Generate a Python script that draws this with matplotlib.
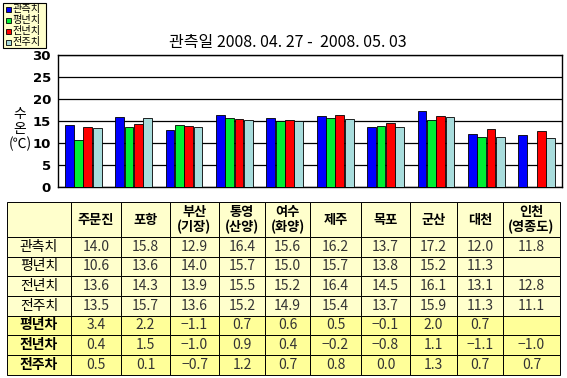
import matplotlib
matplotlib.use("Agg")
import matplotlib.pyplot as plt
import numpy as np
from matplotlib.patches import Rectangle

plt.rcParams['font.family'] = ['Noto Sans CJK KR', 'DejaVu Sans']

stations = ["주문진", "포항", "부산\n(기장)", "통영\n(산양)", "여수\n(화양)", "제주", "목포", "군산", "대천", "인천\n(영종도)"]
series_names = ["관측치", "평년치", "전년치", "전주치"]
observed = [14.0, 15.8, 12.9, 16.4, 15.6, 16.2, 13.7, 17.2, 12.0, 11.8]
normal = [10.6, 13.6, 14.0, 15.7, 15.0, 15.7, 13.8, 15.2, 11.3, np.nan]
last_year = [13.6, 14.3, 13.9, 15.5, 15.2, 16.4, 14.5, 16.1, 13.1, 12.8]
last_week = [13.5, 15.7, 13.6, 15.2, 14.9, 15.4, 13.7, 15.9, 11.3, 11.1]
diff_names = ["평년차", "전년차", "전주차"]
diff_normal = [3.4, 2.2, -1.1, 0.7, 0.6, 0.5, -0.1, 2.0, 0.7, np.nan]
diff_last_year = [0.4, 1.5, -1.0, 0.9, 0.4, -0.2, -0.8, 1.1, -1.1, -1.0]
diff_last_week = [0.5, 0.1, -0.7, 1.2, 0.7, 0.8, 0.0, 1.3, 0.7, 0.7]
yticks = [0, 5, 10, 15, 20, 25, 30]
title = "관측일 2008. 04. 27 -  2008. 05. 03"

colors = ["#0000FF", "#00EE33", "#FF0000", "#A8DCDC"]

W, H = 567, 378
fig = plt.figure(figsize=(W / 100, H / 100), dpi=100)
fig.patch.set_facecolor("white")

# chart axes
x0, x1, y0, y1 = 58, 562, 55, 187
ax = fig.add_axes([x0 / W, 1 - y1 / H, (x1 - x0) / W, (y1 - y0) / H])
series = [observed, normal, last_year, last_week]
n = len(stations)
x = np.arange(n)
bw = 0.175
step = 0.185
for i, (vals, c) in enumerate(zip(series, colors)):
    ax.bar(x + (i - 1.5) * step, vals, width=bw, color=c, edgecolor="black",
           linewidth=0.6, zorder=3)
ax.set_xlim(-0.5, n - 0.5)
ax.set_ylim(0, 30)
ax.set_yticks(yticks)
ax.set_yticklabels([str(t) for t in yticks], fontsize=9.5, fontweight="bold",
                   family=["DejaVu Sans"])
ax.tick_params(axis="y", length=0, pad=5)
ax.set_xticks([])
ax.grid(axis="y", color="black", linewidth=0.9, zorder=0)
for s in ax.spines.values():
    s.set_linewidth(1.0)
    s.set_color("black")

# overlay axes in pixel coordinates
ov = fig.add_axes([0, 0, 1, 1])
ov.set_xlim(0, W)
ov.set_ylim(H, 0)
ov.axis("off")
ov.patch.set_alpha(0)

ov.text(288, 43, title, ha="center", va="center", fontsize=11.5)
ov.text(20, 114, "수", ha="center", va="center", fontsize=10)
ov.text(20, 129, "온", ha="center", va="center", fontsize=10)
ov.text(20, 144, "(℃)", ha="center", va="center", fontsize=10)

# legend box
ov.add_patch(Rectangle((3, 3), 43, 45, facecolor="#FFFFCC", edgecolor="black",
                       linewidth=0.8))
for i, (nm, c) in enumerate(zip(series_names, colors)):
    yy = 9 + i * 11
    ov.add_patch(Rectangle((6, yy - 2.5), 5, 5, facecolor=c, edgecolor="black",
                           linewidth=0.6))
    ov.text(12.5, yy, nm, ha="left", va="center", fontsize=7.3)

# table
cols = [7, 71, 121, 170, 219, 265, 310, 361, 410, 457, 503, 560]
rows = [202, 237.3, 256.7, 276, 295.7, 315.7, 335, 355, 375]
light = "#FFFFCC"
dark = "#FFFF99"
for r in range(len(rows) - 1):
    fc = dark if r >= 5 else light
    for c in range(len(cols) - 1):
        ov.add_patch(Rectangle((cols[c], rows[r]), cols[c + 1] - cols[c],
                               rows[r + 1] - rows[r], facecolor=fc,
                               edgecolor="black", linewidth=0.7))

def cx(c):
    return (cols[c] + cols[c + 1]) / 2

def cy(r):
    return (rows[r] + rows[r + 1]) / 2

for j, st in enumerate(stations):
    ov.text(cx(j + 1), cy(0), st, ha="center", va="center", fontsize=9.5,
            fontweight="bold", linespacing=1.1)

all_rows = [(nm, v, False) for nm, v in zip(series_names, series)] + \
           [(nm, v, True) for nm, v in zip(diff_names,
                                           [diff_normal, diff_last_year, diff_last_week])]
for r, (nm, vals, bold) in enumerate(all_rows, start=1):
    ov.text(cx(0), cy(r), nm, ha="center", va="center", fontsize=10,
            fontweight="bold" if bold else "normal")
    for j, v in enumerate(vals):
        if np.isnan(v):
            continue
        s = f"{v:.1f}".replace("-", "−")
        ov.text(cx(j + 1), cy(r), s, ha="center", va="center", fontsize=10,
                color="#333333")

fig.savefig("out.png", dpi=100)
